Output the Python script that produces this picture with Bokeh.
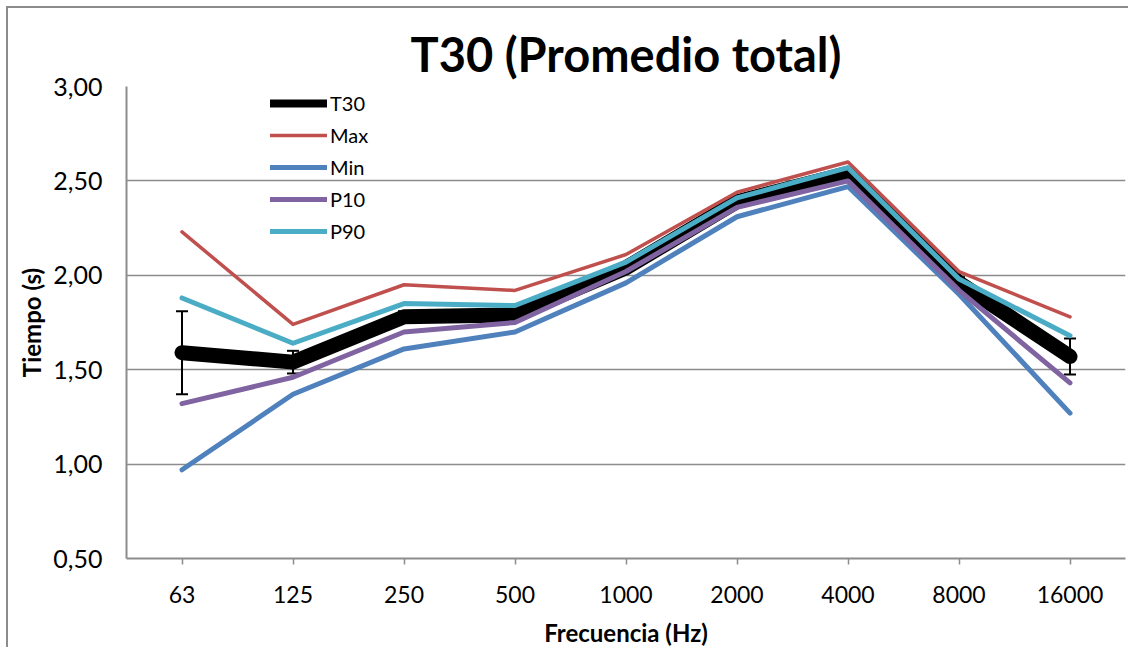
from bokeh.plotting import figure
from bokeh.models import (ColumnDataSource, FactorRange, Range1d, Legend, LegendItem,
                          CustomJSTickFormatter, FixedTicker, Whisker, TeeHead)
from bokeh.embed import file_html
from bokeh.resources import INLINE

freqs = ["63", "125", "250", "500", "1000", "2000", "4000", "8000", "16000"]
t30 = [1.59, 1.54, 1.78, 1.79, 2.04, 2.39, 2.54, 1.96, 1.57]
t30_err = [0.22, 0.06, 0.03, 0.02, 0.02, 0.02, 0.02, 0.03, 0.095]
vmax = [2.23, 1.74, 1.95, 1.92, 2.11, 2.44, 2.60, 2.02, 1.78]
vmin = [0.97, 1.37, 1.61, 1.70, 1.96, 2.31, 2.47, 1.90, 1.27]
p10 = [1.32, 1.46, 1.70, 1.75, 2.02, 2.36, 2.50, 1.92, 1.43]
p90 = [1.88, 1.64, 1.85, 1.84, 2.07, 2.41, 2.57, 1.98, 1.68]
y_ticks = [0.5, 1.0, 1.5, 2.0, 2.5, 3.0]

FONT = "Lato"
GREY = "#8c8c8c"

p = figure(width=1122, height=641, x_range=FactorRange(*freqs), y_range=Range1d(0.5, 3.0),
           output_backend="svg", toolbar_location=None,
           min_border_left=118, min_border_right=5, min_border_top=78, min_border_bottom=91)
p.styles = {"border-left": "2px solid #8c8c8c", "border-top": "2px solid #8c8c8c",
            "margin-left": "6px", "margin-top": "6px"}

p.title.text = "T30 (Promedio total)"
p.title.text_font = FONT
p.title.text_font_size = "47px"
p.title.text_font_style = "bold"
p.title.align = "center"
p.title.text_color = "black"

p.outline_line_color = None
p.xgrid.grid_line_color = None
p.ygrid.grid_line_color = GREY
p.ygrid.grid_line_width = 1.5

p.yaxis.ticker = FixedTicker(ticks=y_ticks)
p.yaxis.formatter = CustomJSTickFormatter(code="return tick.toFixed(2).replace('.', ',');")
p.yaxis.major_tick_line_color = None
p.yaxis.minor_tick_line_color = None
p.yaxis.major_tick_out = 0
p.yaxis.major_tick_in = 0
p.yaxis.major_label_standoff = 24
p.yaxis.major_label_text_font_size = "25px"
p.yaxis.axis_label = "Tiempo (s)"
p.yaxis.axis_label_standoff = 4

p.xaxis.major_tick_out = 6
p.xaxis.major_tick_in = 0
p.xaxis.major_tick_line_color = GREY
p.xaxis.major_tick_line_width = 1.5
p.xaxis.major_label_standoff = 21
p.xaxis.major_label_text_font_size = "23px"
p.xaxis.axis_label = "Frecuencia (Hz)"
p.xaxis.axis_label_standoff = 12

for ax in (p.xaxis[0], p.yaxis[0]):
    ax.axis_line_color = GREY
    ax.axis_line_width = 2
    ax.major_label_text_font = FONT
    ax.major_label_text_color = "black"
    ax.axis_label_text_font = FONT
    ax.axis_label_text_font_size = "24px"
    ax.axis_label_text_font_style = "bold"
    ax.axis_label_text_color = "black"

src = ColumnDataSource(dict(x=freqs, t30=t30, vmax=vmax, vmin=vmin, p10=p10, p90=p90,
                            upper=[a + e for a, e in zip(t30, t30_err)],
                            lower=[a - e for a, e in zip(t30, t30_err)]))

r_t30 = p.line("x", "t30", source=src, color="black", line_width=15,
               line_cap="round", line_join="round")
r_max = p.line("x", "vmax", source=src, color="#C0504D", line_width=3.5,
               line_cap="round", line_join="round")
r_min = p.line("x", "vmin", source=src, color="#4F81BD", line_width=5,
               line_cap="round", line_join="round")
r_p10 = p.line("x", "p10", source=src, color="#8064A2", line_width=5,
               line_cap="round", line_join="round")
r_p90 = p.line("x", "p90", source=src, color="#4BACC6", line_width=5,
               line_cap="round", line_join="round")

# legend key for the T30 series (thinner stroke in the legend key, draws nothing in the plot)
key_src = ColumnDataSource(dict(x=[freqs[0]], y=[float("nan")]))
r_t30_key = p.line("x", "y", source=key_src, color="black", line_width=8, line_cap="round")

wh = Whisker(base="x", upper="upper", lower="lower", source=src,
             line_color="black", line_width=2,
             upper_head=TeeHead(size=12, line_width=2, line_color="black"),
             lower_head=TeeHead(size=12, line_width=2, line_color="black"))
p.add_layout(wh)

legend = Legend(items=[LegendItem(label="T30", renderers=[r_t30_key]),
                       LegendItem(label="Max", renderers=[r_max]),
                       LegendItem(label="Min", renderers=[r_min]),
                       LegendItem(label="P10", renderers=[r_p10]),
                       LegendItem(label="P90", renderers=[r_p90])],
                location=(144, 311), background_fill_alpha=0, border_line_color=None,
                padding=0, margin=0, spacing=0, glyph_width=57, glyph_height=32,
                label_height=32, label_standoff=3, label_text_font=FONT,
                label_text_font_size="20px", label_text_color="black")
p.add_layout(legend)

open("out.html", "w").write(file_html(p, INLINE))
